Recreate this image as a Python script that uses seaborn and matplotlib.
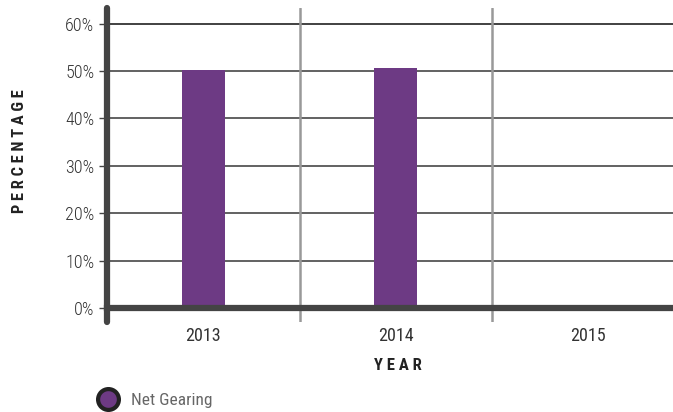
import numpy as np
import pandas as pd
import matplotlib
matplotlib.use("Agg")
import matplotlib.pyplot as plt
import seaborn as sns
from matplotlib.lines import Line2D

years = ["2013", "2014", "2015"]
net_gearing = [50.3, 50.7, np.nan]
yticks = [0, 10, 20, 30, 40, 50, 60]
ytick_labels = ["0%", "10%", "20%", "30%", "40%", "50%", "60%"]
series_name = "Net Gearing"

sns.set_theme(style="white")
plt.rcParams["font.family"] = ["Roboto Condensed", "Liberation Sans Narrow",
                               "DejaVu Sans Condensed", "Roboto", "DejaVu Sans"]

df = pd.DataFrame({"year": years, "value": net_gearing})

fig = plt.figure(figsize=(6.73, 4.12), dpi=100)
ax = fig.add_axes([107 / 673, 90 / 412, 1 - 107 / 673, (322 - 8) / 412])

bar_color = "#6d3a84"
sns.barplot(data=df, x="year", y="value", order=years, color=bar_color,
            width=0.225, saturation=1, linewidth=0, ax=ax, zorder=3)

ax.set_xlim(-0.5, 2.44)
ax.set_ylim(-2.95, 63.27)

ax.set_yticks(yticks)
ax.set_yticklabels(ytick_labels, fontsize=13, color="#333333", fontweight="light")
ax.tick_params(axis="y", length=6, width=1, color="#444444", pad=3, left=True)
ax.tick_params(axis="x", length=0, labelsize=13, labelcolor="#333333", pad=14)
for lab in ax.get_xticklabels():
    lab.set_fontweight("light")

# horizontal grid
for y in yticks[1:]:
    ax.axhline(y, color="#333333" if y == 60 else "#555555", lw=1.3, zorder=1)
# vertical grid at category boundaries
for x in [0.5, 1.5]:
    ax.axvline(x, color="#999999", lw=1.8, zorder=1)

for s in ["top", "right"]:
    ax.spines[s].set_visible(False)
ax.spines["left"].set_color("#444444")
ax.spines["left"].set_linewidth(4.5)
ax.spines["left"].set_capstyle("round")
ax.spines["bottom"].set_position(("data", 0))
ax.spines["bottom"].set_color("#444444")
ax.spines["bottom"].set_linewidth(4.5)
ax.spines["bottom"].set_zorder(4)

ax.set_xlabel("")
ax.set_ylabel("")

fig.text(398 / 673, 1 - 365 / 412, "Y E A R", ha="center", va="center",
         fontsize=12, fontweight="bold", color="#222222")
fig.text(20 / 673, 1 - 151 / 412, "P E R C E N T A G E", ha="center", va="center",
         rotation=90, fontsize=11.8, fontweight="bold", color="#222222")

handle = Line2D([], [], marker="o", linestyle="none", markersize=15,
                markerfacecolor=bar_color, markeredgecolor="#222222", markeredgewidth=3)
fig.legend([handle], [series_name], loc="center left",
           bbox_to_anchor=(84 / 673, 1 - 400 / 412), frameon=False,
           fontsize=12.5, labelcolor="#666666", handletextpad=0.3, borderaxespad=0)

fig.savefig("out.png", dpi=100)
